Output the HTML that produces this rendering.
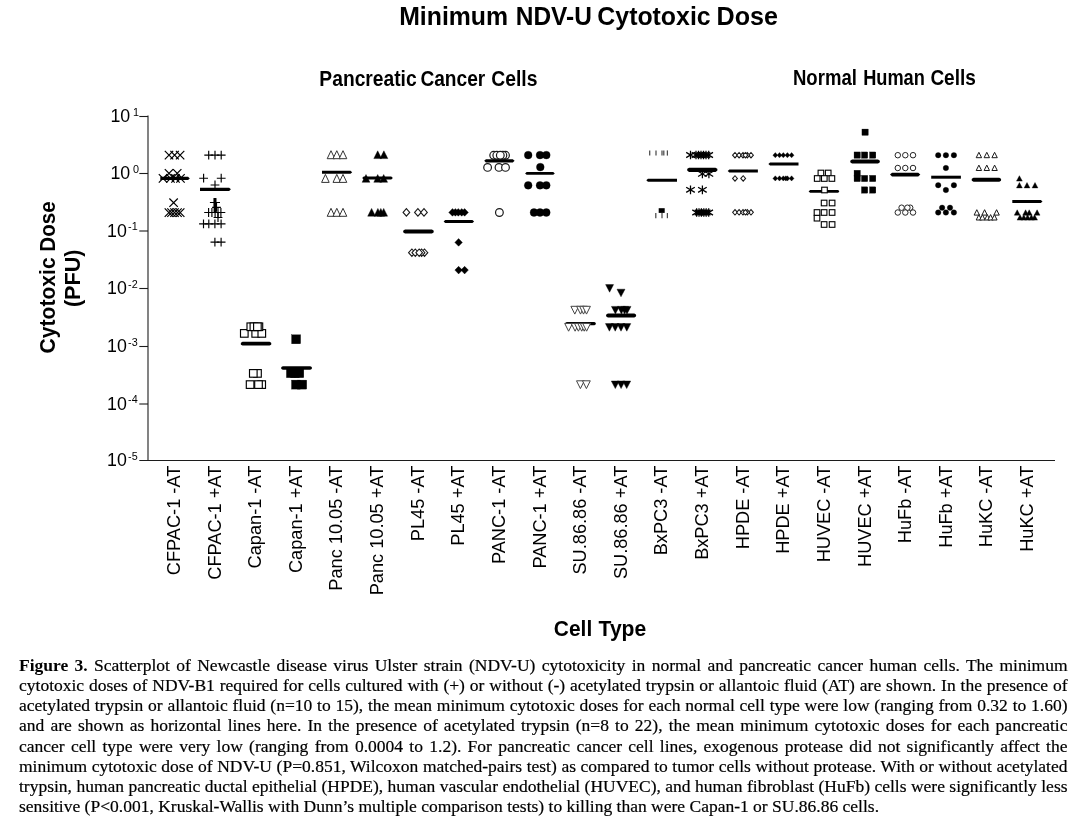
<!DOCTYPE html>
<html><head><meta charset="utf-8"><title>Figure 3</title>
<style>
html,body{margin:0;padding:0;background:#fff;}
body{width:1082px;height:827px;position:relative;overflow:hidden;font-family:"Liberation Sans",sans-serif;color:#000;}
svg{position:absolute;left:0;top:0;}
svg text{font-family:"Liberation Sans",sans-serif;fill:#000;}
.b{font-weight:bold;}
#cap{position:absolute;left:19px;top:655px;width:1048.5px;font-family:"Liberation Serif",serif;font-size:17.5px;line-height:20.13px;-webkit-text-stroke:0.2px #000;text-align:justify;color:#000;}
#cap div{text-align:justify;text-align-last:justify;white-space:nowrap;height:20.13px;}
#cap div.last{text-align-last:left;}
#cap b{-webkit-text-stroke:0;}
</style></head><body>
<svg width="1082" height="827" viewBox="0 0 1082 827">
<path d="M148 115.6V460.5" stroke="#1c1c1c" stroke-width="1.1" fill="none"/>
<path d="M139.3 460.5H1055" stroke="#1c1c1c" stroke-width="1.1" fill="none"/>
<path d="M139.3 116.50H148" stroke="#1c1c1c" stroke-width="1.1"/>
<text y="122.35" font-size="17.8"><tspan x="130.2" text-anchor="end">10</tspan><tspan x="133.0" dy="-6.8" font-size="10.8">1</tspan></text>
<path d="M139.3 173.50H148" stroke="#1c1c1c" stroke-width="1.1"/>
<text y="179.35" font-size="17.8"><tspan x="130.2" text-anchor="end">10</tspan><tspan x="133.0" dy="-6.8" font-size="10.8">0</tspan></text>
<path d="M139.3 231.00H148" stroke="#1c1c1c" stroke-width="1.1"/>
<text y="236.85" font-size="17.8"><tspan x="126.8" text-anchor="end">10</tspan><tspan x="128.1" dy="-6.7" font-size="10.8">-1</tspan></text>
<path d="M139.3 288.50H148" stroke="#1c1c1c" stroke-width="1.1"/>
<text y="294.35" font-size="17.8"><tspan x="126.8" text-anchor="end">10</tspan><tspan x="128.1" dy="-6.7" font-size="10.8">-2</tspan></text>
<path d="M139.3 346.50H148" stroke="#1c1c1c" stroke-width="1.1"/>
<text y="352.35" font-size="17.8"><tspan x="126.8" text-anchor="end">10</tspan><tspan x="128.1" dy="-6.7" font-size="10.8">-3</tspan></text>
<path d="M139.3 404.00H148" stroke="#1c1c1c" stroke-width="1.1"/>
<text y="409.85" font-size="17.8"><tspan x="126.8" text-anchor="end">10</tspan><tspan x="128.1" dy="-6.7" font-size="10.8">-4</tspan></text>
<text y="466.35" font-size="17.8"><tspan x="126.8" text-anchor="end">10</tspan><tspan x="128.1" dy="-6.7" font-size="10.8">-5</tspan></text>
<text class="b" y="25.1" font-size="26.4"><tspan x="399.18" textLength="108.93" lengthAdjust="spacingAndGlyphs">Minimum</tspan> <tspan x="515.77" textLength="76.12" lengthAdjust="spacingAndGlyphs">NDV-U</tspan> <tspan x="597.35" textLength="113.29" lengthAdjust="spacingAndGlyphs">Cytotoxic</tspan> <tspan x="716.49" textLength="61.45" lengthAdjust="spacingAndGlyphs">Dose</tspan></text>
<text class="b" y="86.1" font-size="22.5"><tspan x="319.37" textLength="97.31" lengthAdjust="spacingAndGlyphs">Pancreatic</tspan> <tspan x="420.38" textLength="64.89" lengthAdjust="spacingAndGlyphs">Cancer</tspan> <tspan x="491.32" textLength="46.16" lengthAdjust="spacingAndGlyphs">Cells</tspan></text>
<text class="b" y="85.0" font-size="22.5"><tspan x="792.96" textLength="63.93" lengthAdjust="spacingAndGlyphs">Normal</tspan> <tspan x="863.15" textLength="61.73" lengthAdjust="spacingAndGlyphs">Human</tspan> <tspan x="930.39" textLength="45.48" lengthAdjust="spacingAndGlyphs">Cells</tspan></text>
<text class="b" y="636.0" font-size="22.3"><tspan x="553.81" textLength="38.42" lengthAdjust="spacingAndGlyphs">Cell</tspan> <tspan x="598.57" textLength="47.67" lengthAdjust="spacingAndGlyphs">Type</tspan></text>
<text class="b" transform="translate(55.2,353.1) rotate(-90)" y="0" font-size="22.8"><tspan x="-0.33" textLength="96.04" lengthAdjust="spacingAndGlyphs">Cytotoxic</tspan> <tspan x="101.42" textLength="50.41" lengthAdjust="spacingAndGlyphs">Dose</tspan></text>
<text class="b" transform="translate(80.3,306.5) rotate(-90)" y="0" font-size="22.6"><tspan x="-0.58" textLength="57.57" lengthAdjust="spacingAndGlyphs">(PFU)</tspan></text>
<text transform="translate(180.00,465.7) rotate(-90)" text-anchor="end" font-size="18.2">CFPAC-1 -AT</text>
<text transform="translate(220.62,465.7) rotate(-90)" text-anchor="end" font-size="18.2">CFPAC-1 +AT</text>
<text transform="translate(261.24,465.7) rotate(-90)" text-anchor="end" font-size="18.2">Capan-1 -AT</text>
<text transform="translate(301.86,465.7) rotate(-90)" text-anchor="end" font-size="18.2">Capan-1 +AT</text>
<text transform="translate(342.48,465.7) rotate(-90)" text-anchor="end" font-size="18.2">Panc 10.05 -AT</text>
<text transform="translate(383.10,465.7) rotate(-90)" text-anchor="end" font-size="18.2">Panc 10.05 +AT</text>
<text transform="translate(423.72,465.7) rotate(-90)" text-anchor="end" font-size="18.2">PL45 -AT</text>
<text transform="translate(464.34,465.7) rotate(-90)" text-anchor="end" font-size="18.2">PL45 +AT</text>
<text transform="translate(504.96,465.7) rotate(-90)" text-anchor="end" font-size="18.2">PANC-1 -AT</text>
<text transform="translate(545.58,465.7) rotate(-90)" text-anchor="end" font-size="18.2">PANC-1 +AT</text>
<text transform="translate(586.20,465.7) rotate(-90)" text-anchor="end" font-size="18.2">SU.86.86 -AT</text>
<text transform="translate(626.82,465.7) rotate(-90)" text-anchor="end" font-size="18.2">SU.86.86 +AT</text>
<text transform="translate(667.44,465.7) rotate(-90)" text-anchor="end" font-size="18.2">BxPC3 -AT</text>
<text transform="translate(708.06,465.7) rotate(-90)" text-anchor="end" font-size="18.2">BxPC3 +AT</text>
<text transform="translate(748.68,465.7) rotate(-90)" text-anchor="end" font-size="18.2">HPDE -AT</text>
<text transform="translate(789.30,465.7) rotate(-90)" text-anchor="end" font-size="18.2">HPDE +AT</text>
<text transform="translate(829.92,465.7) rotate(-90)" text-anchor="end" font-size="18.2">HUVEC -AT</text>
<text transform="translate(870.54,465.7) rotate(-90)" text-anchor="end" font-size="18.2">HUVEC +AT</text>
<text transform="translate(911.16,465.7) rotate(-90)" text-anchor="end" font-size="18.2">HuFb -AT</text>
<text transform="translate(951.78,465.7) rotate(-90)" text-anchor="end" font-size="18.2">HuFb +AT</text>
<text transform="translate(992.40,465.7) rotate(-90)" text-anchor="end" font-size="18.2">HuKC -AT</text>
<text transform="translate(1033.02,465.7) rotate(-90)" text-anchor="end" font-size="18.2">HuKC +AT</text>
<path d="M164.80 150.90L173.20 159.30M164.80 159.30L173.20 150.90" stroke="#000" stroke-width="1.2" fill="none"/>
<path d="M170.40 150.90L178.80 159.30M170.40 159.30L178.80 150.90" stroke="#000" stroke-width="1.2" fill="none"/>
<path d="M175.90 150.90L184.30 159.30M175.90 159.30L184.30 150.90" stroke="#000" stroke-width="1.2" fill="none"/>
<path d="M164.80 169.10L173.20 177.50M164.80 177.50L173.20 169.10" stroke="#000" stroke-width="1.2" fill="none"/>
<path d="M173.00 169.10L181.40 177.50M173.00 177.50L181.40 169.10" stroke="#000" stroke-width="1.2" fill="none"/>
<path d="M158.80 174.20L167.20 182.60M158.80 182.60L167.20 174.20" stroke="#000" stroke-width="1.2" fill="none"/>
<path d="M166.30 174.20L174.70 182.60M166.30 182.60L174.70 174.20" stroke="#000" stroke-width="1.2" fill="none"/>
<path d="M171.30 174.20L179.70 182.60M171.30 182.60L179.70 174.20" stroke="#000" stroke-width="1.2" fill="none"/>
<path d="M176.30 174.20L184.70 182.60M176.30 182.60L184.70 174.20" stroke="#000" stroke-width="1.2" fill="none"/>
<path d="M188.04 176.80L189.80 178.40L188.04 180.00L160.30 180.00L160.30 176.80Z" fill="#000"/>
<path d="M169.40 198.50L177.80 206.90M169.40 206.90L177.80 198.50" stroke="#000" stroke-width="1.2" fill="none"/>
<path d="M164.70 208.40L173.10 216.80M164.70 216.80L173.10 208.40" stroke="#000" stroke-width="1.2" fill="none"/>
<path d="M167.30 208.40L175.70 216.80M167.30 216.80L175.70 208.40" stroke="#000" stroke-width="1.2" fill="none"/>
<path d="M170.30 208.40L178.70 216.80M170.30 216.80L178.70 208.40" stroke="#000" stroke-width="1.2" fill="none"/>
<path d="M173.30 208.40L181.70 216.80M173.30 216.80L181.70 208.40" stroke="#000" stroke-width="1.2" fill="none"/>
<path d="M176.00 208.40L184.40 216.80M176.00 216.80L184.40 208.40" stroke="#000" stroke-width="1.2" fill="none"/>
<path d="M204.30 155.10H213.10M208.70 150.70V159.50" stroke="#000" stroke-width="1.15" fill="none"/>
<path d="M210.60 155.10H219.40M215.00 150.70V159.50" stroke="#000" stroke-width="1.15" fill="none"/>
<path d="M216.80 155.10H225.60M221.20 150.70V159.50" stroke="#000" stroke-width="1.15" fill="none"/>
<path d="M199.20 178.20H208.00M203.60 173.80V182.60" stroke="#000" stroke-width="1.15" fill="none"/>
<path d="M216.80 178.20H225.60M221.20 173.80V182.60" stroke="#000" stroke-width="1.15" fill="none"/>
<path d="M210.60 185.00H219.40M215.00 180.60V189.40" stroke="#000" stroke-width="1.15" fill="none"/>
<path d="M229.14 187.70L230.90 189.30L229.14 190.90L200.00 190.90L200.00 187.70Z" fill="#000"/>
<path d="M209.90 202.50H218.70M214.30 198.10V206.90" stroke="#000" stroke-width="1.15" fill="none"/>
<path d="M211.20 202.50H220.00M215.60 198.10V206.90" stroke="#000" stroke-width="1.15" fill="none"/>
<path d="M212.10 207.40H220.90M216.50 203.00V211.80" stroke="#000" stroke-width="1.15" fill="none"/>
<path d="M215 198.1V212.2" stroke="#000" stroke-width="2.8"/>
<path d="M204.20 212.50H213.00M208.60 208.10V216.90" stroke="#000" stroke-width="1.15" fill="none"/>
<path d="M207.50 212.50H216.30M211.90 208.10V216.90" stroke="#000" stroke-width="1.15" fill="none"/>
<path d="M210.70 212.50H219.50M215.10 208.10V216.90" stroke="#000" stroke-width="1.15" fill="none"/>
<path d="M213.60 212.50H222.40M218.00 208.10V216.90" stroke="#000" stroke-width="1.15" fill="none"/>
<path d="M216.50 212.50H225.30M220.90 208.10V216.90" stroke="#000" stroke-width="1.15" fill="none"/>
<path d="M213.60 217.50H222.40M218.00 213.10V221.90" stroke="#000" stroke-width="1.15" fill="none"/>
<path d="M199.10 223.90H207.90M203.50 219.50V228.30" stroke="#000" stroke-width="1.15" fill="none"/>
<path d="M204.40 223.90H213.20M208.80 219.50V228.30" stroke="#000" stroke-width="1.15" fill="none"/>
<path d="M210.50 223.90H219.30M214.90 219.50V228.30" stroke="#000" stroke-width="1.15" fill="none"/>
<path d="M216.70 223.90H225.50M221.10 219.50V228.30" stroke="#000" stroke-width="1.15" fill="none"/>
<path d="M210.50 242.10H219.30M214.90 237.70V246.50" stroke="#000" stroke-width="1.15" fill="none"/>
<path d="M216.70 242.10H225.50M221.10 237.70V246.50" stroke="#000" stroke-width="1.15" fill="none"/>
<rect x="240.50" y="329.60" width="7.60" height="7.60" stroke="#000" stroke-width="1.15" fill="#fff"/>
<rect x="251.90" y="329.60" width="7.60" height="7.60" stroke="#000" stroke-width="1.15" fill="#fff"/>
<rect x="258.00" y="329.60" width="7.60" height="7.60" stroke="#000" stroke-width="1.15" fill="#fff"/>
<rect x="247.00" y="322.95" width="7.60" height="7.60" stroke="#000" stroke-width="1.15" fill="#fff"/>
<rect x="250.10" y="322.95" width="7.60" height="7.60" stroke="#000" stroke-width="1.15" fill="#fff"/>
<rect x="255.10" y="322.95" width="7.60" height="7.60" stroke="#000" stroke-width="1.15" fill="#fff"/>
<rect x="253.60" y="322.95" width="7.60" height="7.60" stroke="#000" stroke-width="1.15" fill="#fff"/>
<path d="M269.59 341.80L271.15 342.76L271.30 343.70L271.15 344.64L269.59 345.60L242.51 345.60L240.95 344.64L240.80 343.70L240.95 342.76L242.51 341.80Z" fill="#000"/>
<rect x="253.70" y="369.60" width="7.60" height="7.60" stroke="#000" stroke-width="1.15" fill="#fff"/>
<rect x="249.50" y="369.60" width="7.60" height="7.60" stroke="#000" stroke-width="1.15" fill="#fff"/>
<rect x="257.90" y="380.80" width="7.60" height="7.60" stroke="#000" stroke-width="1.15" fill="#fff"/>
<rect x="254.70" y="380.80" width="7.60" height="7.60" stroke="#000" stroke-width="1.15" fill="#fff"/>
<rect x="246.30" y="380.80" width="7.60" height="7.60" stroke="#000" stroke-width="1.15" fill="#fff"/>
<rect x="291.60" y="334.80" width="9.00" height="9.00" stroke="#000" stroke-width="0.3" fill="#000"/>
<rect x="286.40" y="368.70" width="9.00" height="9.00" stroke="#000" stroke-width="0.3" fill="#000"/>
<rect x="290.50" y="368.70" width="9.00" height="9.00" stroke="#000" stroke-width="0.3" fill="#000"/>
<rect x="294.80" y="368.70" width="9.00" height="9.00" stroke="#000" stroke-width="0.3" fill="#000"/>
<path d="M310.28 366.20L311.75 367.11L311.90 368.00L311.75 368.89L310.28 369.80L282.82 369.80L281.35 368.89L281.20 368.00L281.35 367.11L282.82 366.20Z" fill="#000"/>
<rect x="291.50" y="380.10" width="9.00" height="9.00" stroke="#000" stroke-width="0.3" fill="#000"/>
<rect x="297.70" y="380.10" width="9.00" height="9.00" stroke="#000" stroke-width="0.3" fill="#000"/>
<path d="M327.20 158.70L331.00 150.70L334.80 158.70Z" stroke="#333" stroke-width="1.0" fill="#fff"/>
<path d="M333.00 158.70L336.80 150.70L340.60 158.70Z" stroke="#333" stroke-width="1.0" fill="#fff"/>
<path d="M339.20 158.70L343.00 150.70L346.80 158.70Z" stroke="#333" stroke-width="1.0" fill="#fff"/>
<path d="M350.50 170.75L352.20 172.30L350.50 173.85L322.00 173.85L322.00 170.75Z" fill="#000"/>
<path d="M321.60 182.40L325.40 174.40L329.20 182.40Z" stroke="#333" stroke-width="1.0" fill="#fff"/>
<path d="M333.00 182.40L336.80 174.40L340.60 182.40Z" stroke="#333" stroke-width="1.0" fill="#fff"/>
<path d="M339.20 182.40L343.00 174.40L346.80 182.40Z" stroke="#333" stroke-width="1.0" fill="#fff"/>
<path d="M327.20 216.30L331.00 208.30L334.80 216.30Z" stroke="#333" stroke-width="1.0" fill="#fff"/>
<path d="M333.00 216.30L336.80 208.30L340.60 216.30Z" stroke="#333" stroke-width="1.0" fill="#fff"/>
<path d="M339.20 216.30L343.00 208.30L346.80 216.30Z" stroke="#333" stroke-width="1.0" fill="#fff"/>
<path d="M373.80 158.60L377.70 150.80L381.60 158.60Z" stroke="#000" stroke-width="0.4" fill="#000"/>
<path d="M380.00 158.60L383.90 150.80L387.80 158.60Z" stroke="#000" stroke-width="0.4" fill="#000"/>
<path d="M362.10 182.30L366.00 174.50L369.90 182.30Z" stroke="#000" stroke-width="0.4" fill="#000"/>
<path d="M373.80 182.30L377.70 174.50L381.60 182.30Z" stroke="#000" stroke-width="0.4" fill="#000"/>
<path d="M379.80 182.30L383.70 174.50L387.60 182.30Z" stroke="#000" stroke-width="0.4" fill="#000"/>
<path d="M391.25 176.50L392.90 178.00L391.25 179.50L363.75 179.50L362.10 178.00L363.75 176.50Z" fill="#000"/>
<path d="M367.70 216.20L371.60 208.40L375.50 216.20Z" stroke="#000" stroke-width="0.4" fill="#000"/>
<path d="M374.00 216.20L377.90 208.40L381.80 216.20Z" stroke="#000" stroke-width="0.4" fill="#000"/>
<path d="M376.90 216.20L380.80 208.40L384.70 216.20Z" stroke="#000" stroke-width="0.4" fill="#000"/>
<path d="M379.80 216.20L383.70 208.40L387.60 216.20Z" stroke="#000" stroke-width="0.4" fill="#000"/>
<path d="M403.10 212.40L406.40 208.70L409.70 212.40L406.40 216.10Z" stroke="#1a1a1a" stroke-width="1.1" fill="#fff"/>
<path d="M414.60 212.40L417.90 208.70L421.20 212.40L417.90 216.10Z" stroke="#1a1a1a" stroke-width="1.1" fill="#fff"/>
<path d="M420.70 212.40L424.00 208.70L427.30 212.40L424.00 216.10Z" stroke="#1a1a1a" stroke-width="1.1" fill="#fff"/>
<path d="M431.90 229.40L433.55 230.41L433.70 231.40L433.55 232.39L431.90 233.40L405.00 233.40L403.35 232.39L403.20 231.40L403.35 230.41L405.00 229.40Z" fill="#000"/>
<path d="M408.60 252.70L411.90 249.00L415.20 252.70L411.90 256.40Z" stroke="#1a1a1a" stroke-width="1.1" fill="#fff"/>
<path d="M412.00 252.70L415.30 249.00L418.60 252.70L415.30 256.40Z" stroke="#1a1a1a" stroke-width="1.1" fill="#fff"/>
<path d="M421.20 252.70L424.50 249.00L427.80 252.70L424.50 256.40Z" stroke="#1a1a1a" stroke-width="1.1" fill="#fff"/>
<path d="M418.30 252.70L421.60 249.00L424.90 252.70L421.60 256.40Z" stroke="#1a1a1a" stroke-width="1.1" fill="#fff"/>
<path d="M415.90 252.70L419.20 249.00L422.50 252.70L419.20 256.40Z" stroke="#1a1a1a" stroke-width="1.1" fill="#fff"/>
<path d="M448.75 212.40L452.50 208.60L456.25 212.40L452.50 216.20Z" stroke="#000" stroke-width="0.4" fill="#000"/>
<path d="M451.65 212.40L455.40 208.60L459.15 212.40L455.40 216.20Z" stroke="#000" stroke-width="0.4" fill="#000"/>
<path d="M454.55 212.40L458.30 208.60L462.05 212.40L458.30 216.20Z" stroke="#000" stroke-width="0.4" fill="#000"/>
<path d="M457.95 212.40L461.70 208.60L465.45 212.40L461.70 216.20Z" stroke="#000" stroke-width="0.4" fill="#000"/>
<path d="M460.85 212.40L464.60 208.60L468.35 212.40L464.60 216.20Z" stroke="#000" stroke-width="0.4" fill="#000"/>
<path d="M472.45 220.00L474.10 221.50L472.45 223.00L445.25 223.00L443.60 221.50L445.25 220.00Z" fill="#000"/>
<path d="M454.85 242.40L458.60 238.60L462.35 242.40L458.60 246.20Z" stroke="#000" stroke-width="0.4" fill="#000"/>
<path d="M454.85 270.10L458.60 266.30L462.35 270.10L458.60 273.90Z" stroke="#000" stroke-width="0.4" fill="#000"/>
<path d="M460.85 270.10L464.60 266.30L468.35 270.10L464.60 273.90Z" stroke="#000" stroke-width="0.4" fill="#000"/>
<circle cx="493.70" cy="155.30" r="3.85" stroke="#1a1a1a" stroke-width="1.2" fill="#fff"/>
<circle cx="496.80" cy="155.30" r="3.85" stroke="#1a1a1a" stroke-width="1.2" fill="#fff"/>
<circle cx="505.50" cy="155.30" r="3.85" stroke="#1a1a1a" stroke-width="1.2" fill="#fff"/>
<circle cx="502.90" cy="155.30" r="3.85" stroke="#1a1a1a" stroke-width="1.2" fill="#fff"/>
<circle cx="500.30" cy="155.30" r="3.85" stroke="#1a1a1a" stroke-width="1.2" fill="#fff"/>
<circle cx="487.60" cy="167.40" r="3.85" stroke="#1a1a1a" stroke-width="1.2" fill="#fff"/>
<circle cx="499.00" cy="167.40" r="3.85" stroke="#1a1a1a" stroke-width="1.2" fill="#fff"/>
<circle cx="505.50" cy="167.40" r="3.85" stroke="#1a1a1a" stroke-width="1.2" fill="#fff"/>
<path d="M512.84 159.20L514.60 160.80L512.84 162.40L485.96 162.40L484.20 160.80L485.96 159.20Z" fill="#000"/>
<circle cx="499.40" cy="212.50" r="3.85" stroke="#1a1a1a" stroke-width="1.2" fill="#fff"/>
<circle cx="528.20" cy="155.10" r="3.9" stroke="#000" stroke-width="0.3" fill="#000"/>
<circle cx="540.00" cy="155.10" r="3.9" stroke="#000" stroke-width="0.3" fill="#000"/>
<circle cx="546.30" cy="155.10" r="3.9" stroke="#000" stroke-width="0.3" fill="#000"/>
<circle cx="540.30" cy="167.10" r="3.9" stroke="#000" stroke-width="0.3" fill="#000"/>
<path d="M553.26 172.00L554.80 173.40L553.26 174.80L526.64 174.80L525.10 173.40L526.64 172.00Z" fill="#000"/>
<circle cx="528.20" cy="185.30" r="3.9" stroke="#000" stroke-width="0.3" fill="#000"/>
<circle cx="540.00" cy="185.30" r="3.9" stroke="#000" stroke-width="0.3" fill="#000"/>
<circle cx="546.30" cy="185.30" r="3.9" stroke="#000" stroke-width="0.3" fill="#000"/>
<circle cx="534.00" cy="212.50" r="3.9" stroke="#000" stroke-width="0.3" fill="#000"/>
<circle cx="540.00" cy="212.50" r="3.9" stroke="#000" stroke-width="0.3" fill="#000"/>
<circle cx="546.30" cy="212.50" r="3.9" stroke="#000" stroke-width="0.3" fill="#000"/>
<path d="M570.90 306.30L574.80 314.10L578.70 306.30Z" stroke="#444" stroke-width="1.0" fill="#fff"/>
<path d="M576.60 306.30L580.50 314.10L584.40 306.30Z" stroke="#444" stroke-width="1.0" fill="#fff"/>
<path d="M579.60 306.30L583.50 314.10L587.40 306.30Z" stroke="#444" stroke-width="1.0" fill="#fff"/>
<path d="M582.60 306.30L586.50 314.10L590.40 306.30Z" stroke="#444" stroke-width="1.0" fill="#fff"/>
<path d="M594.36 322.00L595.65 322.81L595.80 323.60L595.65 324.39L594.36 325.20L566.74 325.20L565.45 324.39L565.30 323.60L565.45 322.81L566.74 322.00Z" fill="#000"/>
<path d="M564.70 323.40L568.60 331.20L572.50 323.40Z" stroke="#444" stroke-width="1.0" fill="#fff"/>
<path d="M571.20 323.40L575.10 331.20L579.00 323.40Z" stroke="#444" stroke-width="1.0" fill="#fff"/>
<path d="M574.50 323.40L578.40 331.20L582.30 323.40Z" stroke="#444" stroke-width="1.0" fill="#fff"/>
<path d="M577.80 323.40L581.70 331.20L585.60 323.40Z" stroke="#444" stroke-width="1.0" fill="#fff"/>
<path d="M580.30 323.40L584.20 331.20L588.10 323.40Z" stroke="#444" stroke-width="1.0" fill="#fff"/>
<path d="M582.70 323.40L586.60 331.20L590.50 323.40Z" stroke="#444" stroke-width="1.0" fill="#fff"/>
<path d="M576.50 380.80L580.40 388.60L584.30 380.80Z" stroke="#444" stroke-width="1.0" fill="#fff"/>
<path d="M582.50 380.80L586.40 388.60L590.30 380.80Z" stroke="#444" stroke-width="1.0" fill="#fff"/>
<path d="M605.60 284.60L609.60 292.20L613.60 284.60Z" stroke="#000" stroke-width="0.4" fill="#000"/>
<path d="M617.00 289.20L621.00 296.80L625.00 289.20Z" stroke="#000" stroke-width="0.4" fill="#000"/>
<path d="M611.40 306.40L615.40 314.00L619.40 306.40Z" stroke="#000" stroke-width="0.4" fill="#000"/>
<path d="M617.40 306.40L621.40 314.00L625.40 306.40Z" stroke="#000" stroke-width="0.4" fill="#000"/>
<path d="M620.60 306.40L624.60 314.00L628.60 306.40Z" stroke="#000" stroke-width="0.4" fill="#000"/>
<path d="M623.00 306.40L627.00 314.00L631.00 306.40Z" stroke="#000" stroke-width="0.4" fill="#000"/>
<path d="M634.30 313.50L635.95 314.51L636.10 315.50L635.95 316.49L634.30 317.50L607.90 317.50L606.25 316.49L606.10 315.50L606.25 314.51L607.90 313.50Z" fill="#000"/>
<path d="M605.40 323.60L609.40 331.20L613.40 323.60Z" stroke="#000" stroke-width="0.4" fill="#000"/>
<path d="M611.20 323.60L615.20 331.20L619.20 323.60Z" stroke="#000" stroke-width="0.4" fill="#000"/>
<path d="M617.00 323.60L621.00 331.20L625.00 323.60Z" stroke="#000" stroke-width="0.4" fill="#000"/>
<path d="M622.80 323.60L626.80 331.20L630.80 323.60Z" stroke="#000" stroke-width="0.4" fill="#000"/>
<path d="M611.30 381.00L615.30 388.60L619.30 381.00Z" stroke="#000" stroke-width="0.4" fill="#000"/>
<path d="M617.10 381.00L621.10 388.60L625.10 381.00Z" stroke="#000" stroke-width="0.4" fill="#000"/>
<path d="M622.70 381.00L626.70 388.60L630.70 381.00Z" stroke="#000" stroke-width="0.4" fill="#000"/>
<path d="M649.70 150.40V155.60" stroke="#4a4a4a" stroke-width="1.25"/>
<path d="M656.00 150.40V155.60" stroke="#4a4a4a" stroke-width="1.25"/>
<path d="M662.00 150.40V155.60" stroke="#4a4a4a" stroke-width="1.25"/>
<path d="M663.80 150.40V155.60" stroke="#4a4a4a" stroke-width="1.25"/>
<path d="M667.40 150.40V155.60" stroke="#4a4a4a" stroke-width="1.25"/>
<path d="M677.00 178.80L677.00 181.80L647.95 181.80L646.30 180.30L647.95 178.80Z" fill="#000"/>
<rect x="658.7" y="208.2" width="6" height="4.7" fill="#000"/>
<path d="M655.80 213.00V218.20" stroke="#4a4a4a" stroke-width="1.25"/>
<path d="M662.00 213.00V218.20" stroke="#4a4a4a" stroke-width="1.25"/>
<path d="M667.40 213.00V218.20" stroke="#4a4a4a" stroke-width="1.25"/>
<path d="M690.50 150.65V159.35M686.20 152.40L694.80 157.60M686.20 157.60L694.80 152.40" stroke="#000" stroke-width="1.25" fill="none"/>
<path d="M696.00 150.65V159.35M691.70 152.40L700.30 157.60M691.70 157.60L700.30 152.40" stroke="#000" stroke-width="1.25" fill="none"/>
<path d="M698.50 150.65V159.35M694.20 152.40L702.80 157.60M694.20 157.60L702.80 152.40" stroke="#000" stroke-width="1.25" fill="none"/>
<path d="M701.00 150.65V159.35M696.70 152.40L705.30 157.60M696.70 157.60L705.30 152.40" stroke="#000" stroke-width="1.25" fill="none"/>
<path d="M703.50 150.65V159.35M699.20 152.40L707.80 157.60M699.20 157.60L707.80 152.40" stroke="#000" stroke-width="1.25" fill="none"/>
<path d="M706.00 150.65V159.35M701.70 152.40L710.30 157.60M701.70 157.60L710.30 152.40" stroke="#000" stroke-width="1.25" fill="none"/>
<path d="M708.70 150.65V159.35M704.40 152.40L713.00 157.60M704.40 157.60L713.00 152.40" stroke="#000" stroke-width="1.25" fill="none"/>
<path d="M702.40 169.55V178.25M698.10 171.30L706.70 176.50M698.10 176.50L706.70 171.30" stroke="#000" stroke-width="1.25" fill="none"/>
<path d="M708.90 169.55V178.25M704.60 171.30L713.20 176.50M704.60 176.50L713.20 171.30" stroke="#000" stroke-width="1.25" fill="none"/>
<path d="M715.51 167.70L717.25 168.76L717.40 169.80L717.25 170.84L715.51 171.90L689.09 171.90L687.35 170.84L687.20 169.80L687.35 168.76L689.09 167.70Z" fill="#000"/>
<path d="M690.50 185.45V194.15M686.20 187.20L694.80 192.40M686.20 192.40L694.80 187.20" stroke="#000" stroke-width="1.25" fill="none"/>
<path d="M702.40 185.45V194.15M698.10 187.20L706.70 192.40M698.10 192.40L706.70 187.20" stroke="#000" stroke-width="1.25" fill="none"/>
<path d="M696.60 208.15V216.85M692.30 209.90L700.90 215.10M692.30 215.10L700.90 209.90" stroke="#000" stroke-width="1.25" fill="none"/>
<path d="M699.00 208.15V216.85M694.70 209.90L703.30 215.10M694.70 215.10L703.30 209.90" stroke="#000" stroke-width="1.25" fill="none"/>
<path d="M701.40 208.15V216.85M697.10 209.90L705.70 215.10M697.10 215.10L705.70 209.90" stroke="#000" stroke-width="1.25" fill="none"/>
<path d="M703.80 208.15V216.85M699.50 209.90L708.10 215.10M699.50 215.10L708.10 209.90" stroke="#000" stroke-width="1.25" fill="none"/>
<path d="M706.20 208.15V216.85M701.90 209.90L710.50 215.10M701.90 215.10L710.50 209.90" stroke="#000" stroke-width="1.25" fill="none"/>
<path d="M708.70 208.15V216.85M704.40 209.90L713.00 215.10M704.40 215.10L713.00 209.90" stroke="#000" stroke-width="1.25" fill="none"/>
<path d="M732.60 155.20L735.00 152.50L737.40 155.20L735.00 157.90Z" stroke="#1a1a1a" stroke-width="1.05" fill="#fff"/>
<path d="M736.70 155.20L739.10 152.50L741.50 155.20L739.10 157.90Z" stroke="#1a1a1a" stroke-width="1.05" fill="#fff"/>
<path d="M748.60 155.20L751.00 152.50L753.40 155.20L751.00 157.90Z" stroke="#1a1a1a" stroke-width="1.05" fill="#fff"/>
<path d="M744.90 155.20L747.30 152.50L749.70 155.20L747.30 157.90Z" stroke="#1a1a1a" stroke-width="1.05" fill="#fff"/>
<path d="M740.60 155.20L743.00 152.50L745.40 155.20L743.00 157.90Z" stroke="#1a1a1a" stroke-width="1.05" fill="#fff"/>
<path d="M743.00 155.20L745.40 152.50L747.80 155.20L745.40 157.90Z" stroke="#1a1a1a" stroke-width="1.05" fill="#fff"/>
<path d="M757.90 169.60L757.90 172.60L729.35 172.60L727.70 171.10L729.35 169.60Z" fill="#000"/>
<path d="M732.60 178.40L735.00 175.70L737.40 178.40L735.00 181.10Z" stroke="#1a1a1a" stroke-width="1.05" fill="#fff"/>
<path d="M740.80 178.40L743.20 175.70L745.60 178.40L743.20 181.10Z" stroke="#1a1a1a" stroke-width="1.05" fill="#fff"/>
<path d="M732.60 212.30L735.00 209.60L737.40 212.30L735.00 215.00Z" stroke="#1a1a1a" stroke-width="1.05" fill="#fff"/>
<path d="M736.70 212.30L739.10 209.60L741.50 212.30L739.10 215.00Z" stroke="#1a1a1a" stroke-width="1.05" fill="#fff"/>
<path d="M748.60 212.30L751.00 209.60L753.40 212.30L751.00 215.00Z" stroke="#1a1a1a" stroke-width="1.05" fill="#fff"/>
<path d="M744.90 212.30L747.30 209.60L749.70 212.30L747.30 215.00Z" stroke="#1a1a1a" stroke-width="1.05" fill="#fff"/>
<path d="M740.60 212.30L743.00 209.60L745.40 212.30L743.00 215.00Z" stroke="#1a1a1a" stroke-width="1.05" fill="#fff"/>
<path d="M743.00 212.30L745.40 209.60L747.80 212.30L745.40 215.00Z" stroke="#1a1a1a" stroke-width="1.05" fill="#fff"/>
<path d="M772.85 155.20L775.30 152.55L777.75 155.20L775.30 157.85Z" stroke="#000" stroke-width="0.3" fill="#000"/>
<path d="M777.05 155.20L779.50 152.55L781.95 155.20L779.50 157.85Z" stroke="#000" stroke-width="0.3" fill="#000"/>
<path d="M780.85 155.20L783.30 152.55L785.75 155.20L783.30 157.85Z" stroke="#000" stroke-width="0.3" fill="#000"/>
<path d="M784.95 155.20L787.40 152.55L789.85 155.20L787.40 157.85Z" stroke="#000" stroke-width="0.3" fill="#000"/>
<path d="M789.15 155.20L791.60 152.55L794.05 155.20L791.60 157.85Z" stroke="#000" stroke-width="0.3" fill="#000"/>
<path d="M798.50 162.50L798.50 165.50L770.05 165.50L768.40 164.00L770.05 162.50Z" fill="#000"/>
<path d="M772.85 178.40L775.30 175.75L777.75 178.40L775.30 181.05Z" stroke="#000" stroke-width="0.3" fill="#000"/>
<path d="M777.05 178.40L779.50 175.75L781.95 178.40L779.50 181.05Z" stroke="#000" stroke-width="0.3" fill="#000"/>
<path d="M780.85 178.40L783.30 175.75L785.75 178.40L783.30 181.05Z" stroke="#000" stroke-width="0.3" fill="#000"/>
<path d="M783.35 178.40L785.80 175.75L788.25 178.40L785.80 181.05Z" stroke="#000" stroke-width="0.3" fill="#000"/>
<path d="M784.95 178.40L787.40 175.75L789.85 178.40L787.40 181.05Z" stroke="#000" stroke-width="0.3" fill="#000"/>
<path d="M789.15 178.40L791.60 175.75L794.05 178.40L791.60 181.05Z" stroke="#000" stroke-width="0.3" fill="#000"/>
<rect x="818.10" y="170.20" width="5.60" height="5.60" stroke="#000" stroke-width="1.1" fill="#fff"/>
<rect x="825.40" y="170.20" width="5.60" height="5.60" stroke="#000" stroke-width="1.1" fill="#fff"/>
<rect x="814.40" y="175.70" width="5.60" height="5.60" stroke="#000" stroke-width="1.1" fill="#fff"/>
<rect x="821.50" y="175.70" width="5.60" height="5.60" stroke="#000" stroke-width="1.1" fill="#fff"/>
<rect x="829.10" y="175.70" width="5.60" height="5.60" stroke="#000" stroke-width="1.1" fill="#fff"/>
<path d="M837.94 190.00L839.05 190.71L839.20 191.40L839.05 192.09L837.94 192.80L810.14 192.80L808.60 191.40L810.14 190.00Z" fill="#000"/>
<rect x="821.70" y="187.20" width="5.60" height="5.60" stroke="#000" stroke-width="1.1" fill="#fff"/>
<rect x="821.30" y="200.20" width="5.60" height="5.60" stroke="#000" stroke-width="1.1" fill="#fff"/>
<rect x="829.30" y="200.20" width="5.60" height="5.60" stroke="#000" stroke-width="1.1" fill="#fff"/>
<rect x="814.20" y="215.40" width="5.60" height="5.60" stroke="#000" stroke-width="1.1" fill="#fff"/>
<rect x="814.20" y="209.70" width="5.60" height="5.60" stroke="#000" stroke-width="1.1" fill="#fff"/>
<rect x="821.30" y="209.70" width="5.60" height="5.60" stroke="#000" stroke-width="1.1" fill="#fff"/>
<rect x="829.30" y="209.70" width="5.60" height="5.60" stroke="#000" stroke-width="1.1" fill="#fff"/>
<rect x="821.30" y="221.70" width="5.60" height="5.60" stroke="#000" stroke-width="1.1" fill="#fff"/>
<rect x="829.30" y="221.70" width="5.60" height="5.60" stroke="#000" stroke-width="1.1" fill="#fff"/>
<rect x="861.95" y="129.05" width="6.30" height="6.30" stroke="#000" stroke-width="0.3" fill="#000"/>
<rect x="854.05" y="151.95" width="6.30" height="6.30" stroke="#000" stroke-width="0.3" fill="#000"/>
<rect x="861.45" y="151.95" width="6.30" height="6.30" stroke="#000" stroke-width="0.3" fill="#000"/>
<rect x="869.55" y="151.95" width="6.30" height="6.30" stroke="#000" stroke-width="0.3" fill="#000"/>
<path d="M878.00 159.60L879.65 160.61L879.80 161.60L879.65 162.59L878.00 163.60L852.10 163.60L850.45 162.59L850.30 161.60L850.45 160.61L852.10 159.60Z" fill="#000"/>
<rect x="854.05" y="170.25" width="6.30" height="6.30" stroke="#000" stroke-width="0.3" fill="#000"/>
<rect x="854.05" y="175.35" width="6.30" height="6.30" stroke="#000" stroke-width="0.3" fill="#000"/>
<rect x="861.45" y="175.35" width="6.30" height="6.30" stroke="#000" stroke-width="0.3" fill="#000"/>
<rect x="869.55" y="175.35" width="6.30" height="6.30" stroke="#000" stroke-width="0.3" fill="#000"/>
<rect x="861.45" y="186.85" width="6.30" height="6.30" stroke="#000" stroke-width="0.3" fill="#000"/>
<rect x="869.55" y="186.85" width="6.30" height="6.30" stroke="#000" stroke-width="0.3" fill="#000"/>
<circle cx="897.80" cy="155.20" r="2.75" stroke="#1a1a1a" stroke-width="0.95" fill="#fff"/>
<circle cx="905.30" cy="155.20" r="2.75" stroke="#1a1a1a" stroke-width="0.95" fill="#fff"/>
<circle cx="913.00" cy="155.20" r="2.75" stroke="#1a1a1a" stroke-width="0.95" fill="#fff"/>
<circle cx="897.80" cy="168.00" r="2.75" stroke="#1a1a1a" stroke-width="0.95" fill="#fff"/>
<circle cx="905.30" cy="168.00" r="2.75" stroke="#1a1a1a" stroke-width="0.95" fill="#fff"/>
<circle cx="913.00" cy="168.00" r="2.75" stroke="#1a1a1a" stroke-width="0.95" fill="#fff"/>
<path d="M918.26 172.75L920.30 174.60L918.26 176.45L892.03 176.45L890.00 174.60L892.03 172.75Z" fill="#000"/>
<circle cx="910.20" cy="207.70" r="2.75" stroke="#1a1a1a" stroke-width="0.95" fill="#fff"/>
<circle cx="901.60" cy="207.70" r="2.75" stroke="#1a1a1a" stroke-width="0.95" fill="#fff"/>
<circle cx="907.40" cy="207.70" r="2.75" stroke="#1a1a1a" stroke-width="0.95" fill="#fff"/>
<circle cx="897.80" cy="212.50" r="2.75" stroke="#1a1a1a" stroke-width="0.95" fill="#fff"/>
<circle cx="905.30" cy="212.50" r="2.75" stroke="#1a1a1a" stroke-width="0.95" fill="#fff"/>
<circle cx="913.00" cy="212.50" r="2.75" stroke="#1a1a1a" stroke-width="0.95" fill="#fff"/>
<circle cx="938.20" cy="155.20" r="2.75" stroke="#000" stroke-width="0.3" fill="#000"/>
<circle cx="945.90" cy="155.20" r="2.75" stroke="#000" stroke-width="0.3" fill="#000"/>
<circle cx="953.90" cy="155.20" r="2.75" stroke="#000" stroke-width="0.3" fill="#000"/>
<circle cx="945.90" cy="168.00" r="2.75" stroke="#000" stroke-width="0.3" fill="#000"/>
<path d="M960.90 175.70L960.90 178.70L931.20 178.70L931.20 175.70Z" fill="#000"/>
<circle cx="938.20" cy="185.20" r="2.75" stroke="#000" stroke-width="0.3" fill="#000"/>
<circle cx="953.90" cy="185.20" r="2.75" stroke="#000" stroke-width="0.3" fill="#000"/>
<circle cx="945.90" cy="190.00" r="2.75" stroke="#000" stroke-width="0.3" fill="#000"/>
<circle cx="942.10" cy="207.70" r="2.75" stroke="#000" stroke-width="0.3" fill="#000"/>
<circle cx="950.00" cy="207.70" r="2.75" stroke="#000" stroke-width="0.3" fill="#000"/>
<circle cx="938.20" cy="212.50" r="2.75" stroke="#000" stroke-width="0.3" fill="#000"/>
<circle cx="945.90" cy="212.50" r="2.75" stroke="#000" stroke-width="0.3" fill="#000"/>
<circle cx="953.90" cy="212.50" r="2.75" stroke="#000" stroke-width="0.3" fill="#000"/>
<path d="M976.20 157.70L978.90 152.30L981.60 157.70Z" stroke="#1a1a1a" stroke-width="1.0" fill="#fff"/>
<path d="M984.10 157.70L986.80 152.30L989.50 157.70Z" stroke="#1a1a1a" stroke-width="1.0" fill="#fff"/>
<path d="M991.90 157.70L994.60 152.30L997.30 157.70Z" stroke="#1a1a1a" stroke-width="1.0" fill="#fff"/>
<path d="M976.20 170.50L978.90 165.10L981.60 170.50Z" stroke="#1a1a1a" stroke-width="1.0" fill="#fff"/>
<path d="M984.10 170.50L986.80 165.10L989.50 170.50Z" stroke="#1a1a1a" stroke-width="1.0" fill="#fff"/>
<path d="M991.90 170.50L994.60 165.10L997.30 170.50Z" stroke="#1a1a1a" stroke-width="1.0" fill="#fff"/>
<path d="M999.30 177.70L1000.95 178.71L1001.10 179.70L1000.95 180.69L999.30 181.70L973.50 181.70L971.85 180.69L971.70 179.70L971.85 178.71L973.50 177.70Z" fill="#000"/>
<path d="M974.10 215.10L976.80 209.70L979.50 215.10Z" stroke="#1a1a1a" stroke-width="1.0" fill="#fff"/>
<path d="M981.90 215.10L984.60 209.70L987.30 215.10Z" stroke="#1a1a1a" stroke-width="1.0" fill="#fff"/>
<path d="M993.90 215.10L996.60 209.70L999.30 215.10Z" stroke="#1a1a1a" stroke-width="1.0" fill="#fff"/>
<path d="M976.20 220.00L978.90 214.60L981.60 220.00Z" stroke="#1a1a1a" stroke-width="1.0" fill="#fff"/>
<path d="M979.70 220.00L982.40 214.60L985.10 220.00Z" stroke="#1a1a1a" stroke-width="1.0" fill="#fff"/>
<path d="M984.60 220.00L987.30 214.60L990.00 220.00Z" stroke="#1a1a1a" stroke-width="1.0" fill="#fff"/>
<path d="M987.90 220.00L990.60 214.60L993.30 220.00Z" stroke="#1a1a1a" stroke-width="1.0" fill="#fff"/>
<path d="M991.70 220.00L994.40 214.60L997.10 220.00Z" stroke="#1a1a1a" stroke-width="1.0" fill="#fff"/>
<path d="M1016.50 181.10L1019.40 175.70L1022.30 181.10Z" stroke="#000" stroke-width="0.4" fill="#000"/>
<path d="M1016.50 187.90L1019.40 182.50L1022.30 187.90Z" stroke="#000" stroke-width="0.4" fill="#000"/>
<path d="M1024.10 187.90L1027.00 182.50L1029.90 187.90Z" stroke="#000" stroke-width="0.4" fill="#000"/>
<path d="M1032.10 187.90L1035.00 182.50L1037.90 187.90Z" stroke="#000" stroke-width="0.4" fill="#000"/>
<path d="M1040.85 200.00L1042.50 201.50L1040.85 203.00L1012.30 203.00L1012.30 200.00Z" fill="#000"/>
<path d="M1014.30 215.20L1017.20 209.80L1020.10 215.20Z" stroke="#000" stroke-width="0.4" fill="#000"/>
<path d="M1022.70 215.20L1025.60 209.80L1028.50 215.20Z" stroke="#000" stroke-width="0.4" fill="#000"/>
<path d="M1026.30 215.20L1029.20 209.80L1032.10 215.20Z" stroke="#000" stroke-width="0.4" fill="#000"/>
<path d="M1034.20 215.20L1037.10 209.80L1040.00 215.20Z" stroke="#000" stroke-width="0.4" fill="#000"/>
<path d="M1017.10 220.10L1020.00 214.70L1022.90 220.10Z" stroke="#000" stroke-width="0.4" fill="#000"/>
<path d="M1020.90 220.10L1023.80 214.70L1026.70 220.10Z" stroke="#000" stroke-width="0.4" fill="#000"/>
<path d="M1024.70 220.10L1027.60 214.70L1030.50 220.10Z" stroke="#000" stroke-width="0.4" fill="#000"/>
<path d="M1028.50 220.10L1031.40 214.70L1034.30 220.10Z" stroke="#000" stroke-width="0.4" fill="#000"/>
<path d="M1031.70 220.10L1034.60 214.70L1037.50 220.10Z" stroke="#000" stroke-width="0.4" fill="#000"/>
</svg>
<div id="cap">
<div><b>Figure 3.</b> Scatterplot of Newcastle disease virus Ulster strain (NDV-U) cytotoxicity in normal and pancreatic cancer human cells. The minimum</div>
<div>cytotoxic doses of NDV-B1 required for cells cultured with (+) or without (-) acetylated trypsin or allantoic fluid (AT) are shown. In the presence of</div>
<div>acetylated trypsin or allantoic fluid (n=10 to 15), the mean minimum cytotoxic doses for each normal cell type were low (ranging from 0.32 to 1.60)</div>
<div>and are shown as horizontal lines here. In the presence of acetylated trypsin (n=8 to 22), the mean minimum cytotoxic doses for each pancreatic</div>
<div>cancer cell type were very low (ranging from 0.0004 to 1.2). For pancreatic cancer cell lines, exogenous protease did not significantly affect the</div>
<div>minimum cytotoxic dose of NDV-U (P=0.851, Wilcoxon matched-pairs test) as compared to tumor cells without protease. With or without acetylated</div>
<div>trypsin, human pancreatic ductal epithelial (HPDE), human vascular endothelial (HUVEC), and human fibroblast (HuFb) cells were significantly less</div>
<div class="last">sensitive (P&lt;0.001, Kruskal-Wallis with Dunn’s multiple comparison tests) to killing than were Capan-1 or SU.86.86 cells.</div>
</div>

</body></html>
